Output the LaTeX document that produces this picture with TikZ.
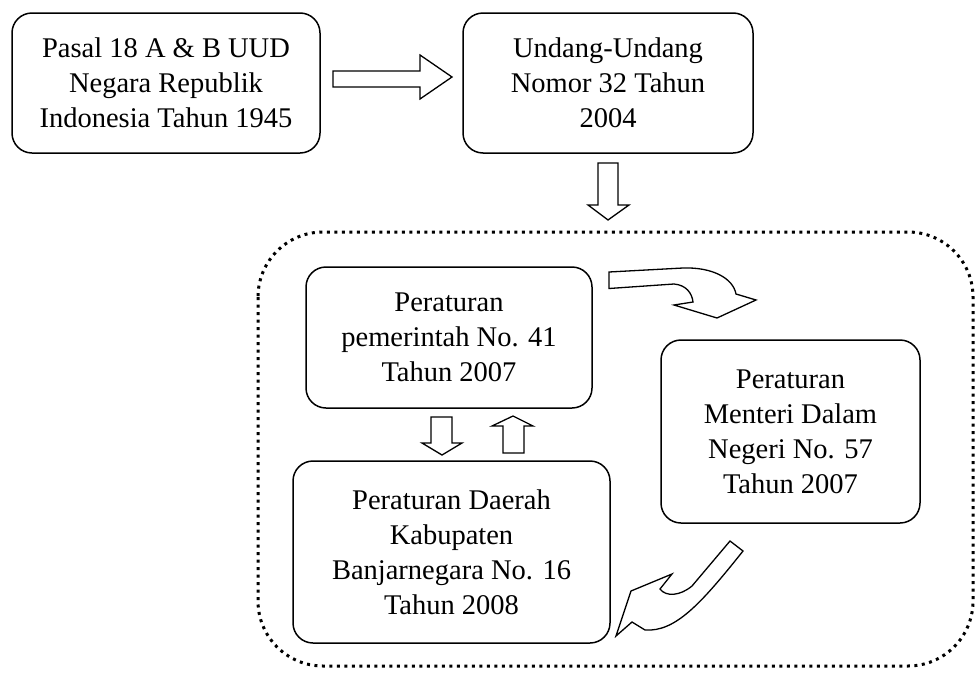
\documentclass[tikz,border=0pt]{standalone}
\usepackage{fontspec}
\setmainfont{Liberation Serif}
\begin{document}
\begin{tikzpicture}[x=1pt,y=-1pt,
  box/.style={draw, line width=1.5pt, rounded corners=20pt, align=center, inner sep=0pt,
    font=\fontsize{28.5}{35}\selectfont},
  blk/.style={draw, line width=1.3pt, fill=white, line join=miter},
  frame/.style={line width=3pt, dash pattern=on 3pt off 4.5pt, rounded corners=65pt}
]
\useasboundingbox (0,0) rectangle (977,675);
% dotted frame
\draw[frame] (258,232) rectangle (973,666);
% top boxes
\node[box, minimum width=308pt, minimum height=140pt] (b1) at (166,83)
  {Pasal 18 A \& B UUD\\Negara Republik\\Indonesia Tahun 1945};
\node[box, minimum width=290pt, minimum height=140pt] (b2) at (608,83)
  {Undang-Undang\\Nomor 32 Tahun\\2004};
% inner boxes
\node[box, minimum width=286pt, minimum height=141pt] (pp) at (449,337.5)
  {Peraturan\\pemerintah No. 41\\Tahun 2007};
\node[box, minimum width=317pt, minimum height=182pt] (pd) at (451.5,552)
  {Peraturan Daerah\\Kabupaten\\Banjarnegara No. 16\\Tahun 2008};
\node[box, minimum width=259pt, minimum height=183pt] (pm) at (790.5,431.5)
  {Peraturan\\Menteri Dalam\\Negeri No. 57\\Tahun 2007};
% block arrows
\draw[blk] (333,71) -- (420,71) -- (420,55) -- (452,77) -- (420,99) -- (420,87) -- (333,87) -- cycle;
\draw[blk] (598,163) -- (618,163) -- (618,205) -- (629,205) -- (608,220) -- (588,205) -- (598,205) -- cycle;
\draw[blk] (431,417) -- (452,417) -- (452,443) -- (462,443) -- (442,455) -- (422,443) -- (431,443) -- cycle;
\draw[blk] (503,453) -- (524,453) -- (524,426) -- (533,426) -- (513,416) -- (492,426) -- (503,426) -- cycle;
% curved arrows
\draw[blk] (609,272) -- (683,268) .. controls (712,267) and (733,278) .. (736,294)
  -- (756,300) -- (717,318) -- (674,305) -- (693,302)
  .. controls (692,293) and (686,285) .. (674,284) -- (609,288.5) -- cycle;
\draw[blk] (730,541) -- (743,551) .. controls (700,605) and (675,632) .. (645,630)
  -- (632,622) -- (616,636) -- (631,591) -- (672,574) -- (660,589)
  .. controls (666,597) and (680,596) .. (692,586) -- cycle;
\end{tikzpicture}
\end{document}
